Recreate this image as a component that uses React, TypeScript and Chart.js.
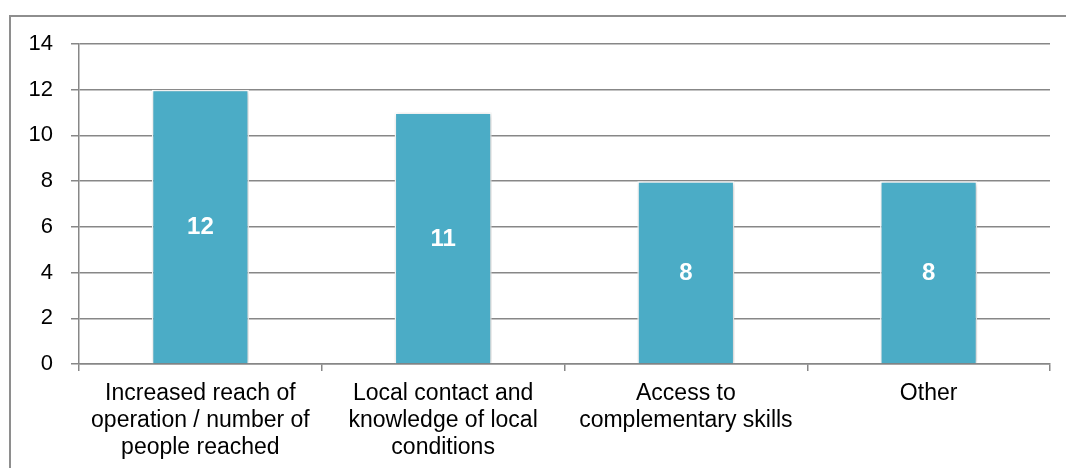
import React, { useEffect, useRef } from "react";
import { Chart, registerables } from "chart.js";

Chart.register(...registerables);

const categories: string[][] = [
  ["Increased reach of", "operation / number of", "people reached"],
  ["Local contact and", "knowledge of local", "conditions"],
  ["Access to", "complementary skills"],
  ["Other"],
];
const values: number[] = [12, 11, 8, 8];
const yTicks: number[] = [0, 2, 4, 6, 8, 10, 12, 14];

const barColor = "#4BACC6";
const gridColor = "#878787";

const shadowPlugin = {
  id: "barShadow",
  beforeDatasetDraw(chart: any) {
    const ctx = chart.ctx;
    ctx.save();
    ctx.shadowColor = "rgba(0,0,0,0.28)";
    ctx.shadowBlur = 5;
    ctx.shadowOffsetX = 1;
    ctx.shadowOffsetY = 1;
  },
  afterDatasetDraw(chart: any) {
    chart.ctx.restore();
  },
};

const valueLabelPlugin = {
  id: "valueLabels",
  afterDatasetsDraw(chart: any) {
    const ctx = chart.ctx;
    const meta = chart.getDatasetMeta(0);
    ctx.save();
    ctx.fillStyle = "#ffffff";
    ctx.font = "bold 24px 'Liberation Sans', Arial, sans-serif";
    ctx.textAlign = "center";
    ctx.textBaseline = "middle";
    meta.data.forEach((bar: any, i: number) => {
      const { x, y, base } = bar.getProps(["x", "y", "base"], true);
      ctx.fillText(String(values[i]), x, (y + base) / 2 + 1);
    });
    ctx.restore();
  },
};

export default function App() {
  const ref = useRef<HTMLCanvasElement>(null);
  useEffect(() => {
    if (!ref.current) return;
    const chart = new Chart(ref.current, {
      type: "bar",
      data: {
        labels: categories,
        datasets: [
          {
            data: values,
            backgroundColor: barColor,
            borderColor: "#ffffff",
            borderWidth: 1.5,
            categoryPercentage: 1,
            barPercentage: 0.4,
          },
        ],
      },
      options: {
        animation: false,
        responsive: false,
        maintainAspectRatio: false,
        layout: { padding: { left: 0, right: 16, top: 44, bottom: 0 } },
        plugins: {
          legend: { display: false },
          tooltip: { enabled: false },
        },
        scales: {
          x: {
            grid: {
              display: true,
              drawOnChartArea: false,
              drawTicks: true,
              tickLength: 7,
              color: gridColor,
              lineWidth: 1.5,
              offset: true,
            },
            border: { display: true, color: gridColor, width: 1.5 },
            ticks: {
              color: "#000000",
              font: { family: "'Liberation Sans', Arial, sans-serif", size: 23, lineHeight: "27px" },
              padding: 9,
              maxRotation: 0,
              autoSkip: false,
            },
            afterFit(scale: any) {
              scale.height = 104;
            },
          },
          y: {
            min: 0,
            max: 14,
            afterBuildTicks(scale: any) {
              scale.ticks = yTicks.map((v) => ({ value: v }));
            },
            grid: {
              color: gridColor,
              lineWidth: 1.5,
              drawTicks: true,
              tickLength: 8,
            },
            border: { display: true, color: gridColor, width: 1.5 },
            ticks: {
              color: "#000000",
              font: { family: "'Liberation Sans', Arial, sans-serif", size: 22 },
              padding: 18,
            },
            afterFit(scale: any) {
              scale.width = 79;
            },
          },
        },
      },
      plugins: [shadowPlugin, valueLabelPlugin],
    });
    return () => chart.destroy();
  }, []);

  return (
    <div>
      <div
        style={{
          position: "fixed",
          left: 9,
          top: 15,
          width: 1200,
          height: 700,
          border: "2px solid #8e8e8e",
          boxSizing: "border-box",
          background: "#ffffff",
        }}
      />
      <canvas
        ref={ref}
        width={1066}
        height={468}
        style={{ position: "fixed", left: 0, top: 0, width: 1066, height: 468 }}
      />
    </div>
  );
}
